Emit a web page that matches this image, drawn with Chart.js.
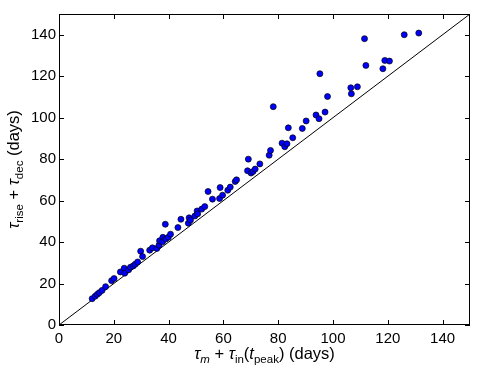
<!DOCTYPE html>
<html>
<head>
<meta charset="utf-8">
<script src="https://cdn.jsdelivr.net/npm/chart.js@4/dist/chart.umd.min.js"></script>
<style>
  html, body { margin: 0; padding: 0; background: #fff; }
</style>
</head>
<body>
<canvas id="myChart" width="490" height="370"></canvas>
<script>
// tau_m + tau_in(t_peak) (days)
const xValues = [
  12.1, 13.2, 14.0, 14.7, 15.7, 17.0, 19.2, 20.1, 22.4, 23.8, 24.0, 25.4, 26.1, 27.1, 27.8, 28.7,
  29.8, 30.5, 33.1, 34.1, 35.7, 36.5, 36.7, 37.9, 37.8, 38.8, 39.0, 39.9, 40.7, 43.4, 44.5, 47.2,
  47.5, 48.0, 49.6, 50.4, 50.6, 52.1, 53.2, 54.4, 56.0, 58.6, 58.8, 59.7, 61.6, 62.5, 64.3, 64.8,
  69.1, 68.8, 70.1, 70.8, 71.6, 73.3, 78.2, 76.7, 77.2, 81.4, 82.4, 83.2, 83.7, 85.3, 88.8, 90.2,
  93.8, 94.9, 97.1, 95.2, 98.0, 106.5, 106.7, 108.9, 111.5, 112.0, 118.2, 118.9, 120.6, 126.0, 131.3
];
// tau_rise + tau_dec (days)
const yValues = [
  12.7, 13.9, 14.8, 15.6, 16.7, 18.5, 21.4, 22.4, 25.6, 27.4, 25.0, 26.6, 27.9, 28.5, 29.3, 30.4,
  35.6, 33.0, 36.1, 37.2, 36.9, 38.5, 40.6, 42.3, 40.1, 48.6, 41.5, 42.3, 43.8, 47.0, 51.0, 49.1,
  51.7, 50.6, 52.6, 55.0, 53.6, 55.9, 57.1, 64.4, 60.7, 61.0, 66.3, 62.6, 65.0, 66.5, 69.2, 70.0,
  80.0, 74.4, 73.3, 74.0, 75.2, 77.7, 105.3, 81.9, 84.2, 87.7, 86.0, 87.4, 95.1, 90.3, 94.8, 98.4,
  101.3, 99.5, 102.7, 121.2, 110.2, 114.4, 111.5, 114.9, 138.1, 125.2, 123.6, 127.6, 127.3, 140.0, 140.8
];
const tickValues = [0, 20, 40, 60, 80, 100, 120, 140];
const axisMax = 150;
const diagonal = [0, axisMax];

const FONT = "'Liberation Sans', Arial, sans-serif";

// draws a label made of pieces: normal text, italic symbols, subscripts
function drawRich(ctx, parts, x, y) {
  const big = 16.5, small = 11.5;
  const fontOf = p => (p.it ? 'italic ' : '') + (p.sub ? small : big) + 'px ' + FONT;
  let total = 0;
  parts.forEach(p => { ctx.font = fontOf(p); total += ctx.measureText(p.t).width; });
  let cx = x - total / 2;
  ctx.textAlign = 'left';
  ctx.textBaseline = 'alphabetic';
  parts.forEach(p => {
    ctx.font = fontOf(p);
    ctx.fillText(p.t, cx, p.sub ? y + 4 : y);
    cx += ctx.measureText(p.t).width;
  });
}

const framePlugin = {
  id: 'frame',
  afterDatasetsDraw(chart) {
    const { ctx, chartArea: a, scales } = chart;
    ctx.save();
    ctx.strokeStyle = '#000';
    ctx.lineWidth = 1;
    ctx.strokeRect(Math.round(a.left) + 0.5, Math.round(a.top) + 0.5,
                   Math.round(a.right - a.left) - 1, Math.round(a.bottom - a.top) - 1);
    ctx.beginPath();
    tickValues.forEach(v => {
      const px = Math.round(scales.x.getPixelForValue(v)) + 0.5;
      ctx.moveTo(px, a.bottom); ctx.lineTo(px, a.bottom - 5);
      ctx.moveTo(px, a.top); ctx.lineTo(px, a.top + 5);
      const py = Math.round(scales.y.getPixelForValue(v)) + 0.5;
      ctx.moveTo(a.left, py); ctx.lineTo(a.left + 5, py);
      ctx.moveTo(a.right, py); ctx.lineTo(a.right - 5, py);
    });
    ctx.stroke();
    ctx.restore();
  },
  afterDraw(chart) {
    const { ctx, chartArea: a } = chart;
    ctx.save();
    ctx.fillStyle = '#000';
    drawRich(ctx, [
      { t: 'τ', it: true }, { t: 'm', it: true, sub: true }, { t: ' + ' },
      { t: 'τ', it: true }, { t: 'in', sub: true }, { t: '(' },
      { t: 't', it: true }, { t: 'peak', sub: true }, { t: ') (days)' }
    ], (a.left + a.right) / 2, 359);
    ctx.translate(19, (a.top + a.bottom) / 2);
    ctx.rotate(-Math.PI / 2);
    drawRich(ctx, [
      { t: 'τ', it: true }, { t: 'rise', sub: true }, { t: ' + ' },
      { t: 'τ', it: true }, { t: 'dec', sub: true }, { t: ' (days)' }
    ], 0, 0);
    ctx.restore();
  }
};

const ctx = document.getElementById('myChart').getContext('2d');

new Chart(ctx, {
  data: {
    datasets: [{
      type: 'scatter',
      data: xValues.map((x, i) => ({ x: x, y: yValues[i] })),
      backgroundColor: '#0000ff',
      borderColor: '#000',
      borderWidth: 0.7,
      pointRadius: 3
    }, {
      type: 'line',
      data: diagonal.map(v => ({ x: v, y: v })),
      borderColor: '#000',
      borderWidth: 1,
      pointRadius: 0
    }]
  },
  options: {
    responsive: false,
    animation: false,
    layout: { padding: { top: 14, right: 20, left: 0, bottom: 0 } },
    plugins: { legend: { display: false }, tooltip: { enabled: false } },
    scales: {
      x: {
        type: 'linear', min: 0, max: axisMax,
        afterBuildTicks: s => { s.ticks = tickValues.map(v => ({ value: v })); },
        afterFit: s => { s.height = 45; },
        grid: { display: true, drawOnChartArea: false, drawTicks: false },
        border: { display: false },
        ticks: { color: '#000', font: { family: FONT, size: 15 }, padding: 5, maxRotation: 0 }
      },
      y: {
        type: 'linear', min: 0, max: axisMax,
        afterBuildTicks: s => { s.ticks = tickValues.map(v => ({ value: v })); },
        afterFit: s => { s.width = 59; },
        grid: { display: true, drawOnChartArea: false, drawTicks: false },
        border: { display: false },
        ticks: { color: '#000', font: { family: FONT, size: 15 }, padding: 3 }
      }
    }
  },
  plugins: [framePlugin]
});
</script>
</body>
</html>
